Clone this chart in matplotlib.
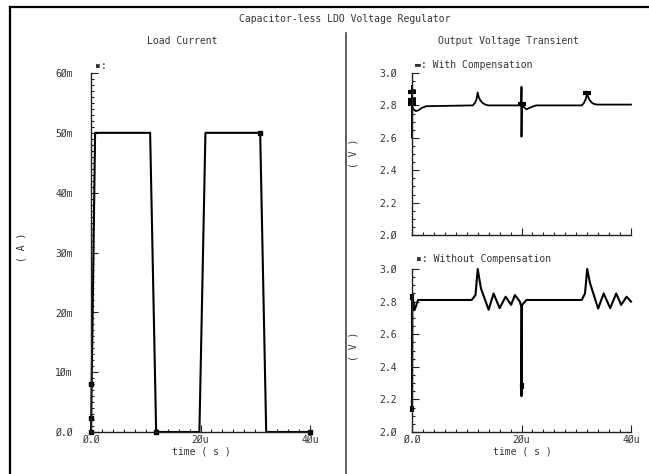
import matplotlib
matplotlib.use("Agg")
import matplotlib.pyplot as plt
from matplotlib.lines import Line2D
from matplotlib.ticker import MultipleLocator

# ===== data (time in us) =====
load_t = [0.0, 0.75, 10.8, 11.9, 19.8, 20.9, 30.9, 32.0, 40.0]
load_i = [0.0, 50.0, 50.0, 0.0, 0.0, 50.0, 50.0, 0.0, 0.0]          # mA
load_mark_t = [0.0, 0.0, 0.0, 11.9, 30.9, 40.0]
load_mark_i = [0.0, 2.3, 8.0, 0.0, 50.0, 0.0]

comp_t = [0.0, 0.0, 0.0, 0.05, 0.3, 0.7, 1.2, 1.8, 2.6,
          11.1, 11.5, 11.8, 12.0, 12.2, 12.5, 12.9, 13.4, 13.9,
          19.95, 20.0, 20.0, 20.05, 20.4, 20.9, 21.5, 22.2, 22.7,
          31.0, 31.4, 31.75, 32.0, 32.2, 32.5, 32.9, 33.4, 33.9, 40.0]
comp_v = [2.80, 2.92, 2.60, 2.79, 2.775, 2.765, 2.77, 2.785, 2.795,
          2.80, 2.815, 2.84, 2.88, 2.85, 2.83, 2.815, 2.805, 2.80,
          2.80, 2.915, 2.607, 2.81, 2.79, 2.776, 2.785, 2.795, 2.80,
          2.80, 2.815, 2.84, 2.875, 2.85, 2.83, 2.815, 2.807, 2.805, 2.805]
comp_mark_t = [0.0, 0.0, 0.0, 20.0, 32.0]
comp_mark_v = [2.88, 2.835, 2.81, 2.81, 2.875]

nocomp_t = [0.0, 0.0, 0.0, 0.05, 0.15, 0.25, 0.4, 0.6, 0.9, 1.1,
            10.9, 11.6, 12.0, 12.6, 14.0, 14.9, 16.0, 17.1, 18.1, 18.8, 19.7,
            19.95, 20.0, 20.1, 20.4, 20.9,
            31.0, 31.6, 32.0, 32.5, 34.0, 35.0, 36.2, 37.3, 38.2, 39.2, 40.0]
nocomp_v = [2.81, 2.84, 2.13, 2.83, 2.77, 2.80, 2.75, 2.76, 2.79, 2.81,
            2.81, 2.84, 3.0, 2.88, 2.75, 2.85, 2.76, 2.83, 2.78, 2.84, 2.80,
            2.77, 2.22, 2.78, 2.79, 2.81,
            2.81, 2.85, 3.0, 2.915, 2.757, 2.85, 2.76, 2.85, 2.78, 2.83, 2.80]
nocomp_mark_t = [0.0, 0.0, 20.0]
nocomp_mark_v = [2.83, 2.14, 2.28]

time_ticks = [0, 20, 40]
time_labels = ["Ø.Ø", "2Øu", "4Øu"]
load_ticks = [0, 10, 20, 30, 40, 50, 60]
load_labels = ["Ø.Ø", "1Øm", "2Øm", "3Øm", "4Øm", "5Øm", "6Øm"]
volt_ticks = [2.0, 2.2, 2.4, 2.6, 2.8, 3.0]
volt_labels = ["2.Ø", "2.2", "2.4", "2.6", "2.8", "3.Ø"]

# ===== layout =====
W, H = 649, 474
FONT = ["DejaVu Sans Mono", "DejaVu Sans"]
TXT = "#333333"
plt.rcParams["font.family"] = FONT
plt.rcParams["font.size"] = 7


def box(x0, y0, x1, y1):
    return [x0 / W, 1 - y1 / H, (x1 - x0) / W, (y1 - y0) / H]


def px(x, y):
    return x / W, 1 - y / H


def style(ax, xminor, yminor, ypad):
    for s in ["top", "right"]:
        ax.spines[s].set_visible(False)
    for s in ["left", "bottom"]:
        ax.spines[s].set_color("#222222")
        ax.spines[s].set_linewidth(1.0)
    ax.xaxis.set_minor_locator(MultipleLocator(xminor))
    ax.yaxis.set_minor_locator(MultipleLocator(yminor))
    ax.tick_params(which="both", direction="in", colors="#222222",
                   labelcolor=TXT, labelsize=7, width=0.8)
    ax.tick_params(which="major", length=5)
    ax.tick_params(which="minor", length=2.5)
    ax.tick_params(axis="y", pad=ypad)
    ax.tick_params(axis="x", pad=2)
    ax.set_facecolor("none")


fig = plt.figure(figsize=(W / 100, H / 100), dpi=100, facecolor="white")

# ===== Load Current =====
ax_i = fig.add_axes(box(91, 73, 310, 432))
ax_i.plot(load_t, load_i, color="black", lw=1.5, clip_on=False)
ax_i.plot(load_mark_t, load_mark_i, ls="none", marker="s", ms=3,
          color="black", clip_on=False)
ax_i.set_xlim(0, 40)
ax_i.set_ylim(0, 60)
ax_i.set_xticks(time_ticks, time_labels)
ax_i.set_yticks(load_ticks, load_labels)
style(ax_i, 2, 1, 13)

# ===== With Compensation =====
ax_c = fig.add_axes(box(412, 73, 631, 235))
ax_c.plot(comp_t, comp_v, color="black", lw=1.3, clip_on=False)
ax_c.plot(comp_mark_t, comp_mark_v, ls="none", marker="_", ms=6, mew=3,
          color="black", clip_on=False)
ax_c.set_xlim(0, 40)
ax_c.set_ylim(2.0, 3.0)
ax_c.set_xticks(time_ticks, [])
ax_c.set_yticks(volt_ticks, volt_labels)
style(ax_c, 2, 0.05, 11)

# ===== Without Compensation =====
ax_n = fig.add_axes(box(412, 269, 631, 432))
ax_n.plot(nocomp_t, nocomp_v, color="black", lw=1.5, clip_on=False)
ax_n.plot(nocomp_mark_t, nocomp_mark_v, ls="none", marker="|", ms=5, mew=3,
          color="black", clip_on=False)
ax_n.set_xlim(0, 40)
ax_n.set_ylim(2.0, 3.0)
ax_n.set_xticks(time_ticks, time_labels)
ax_n.set_yticks(volt_ticks, volt_labels)
style(ax_n, 2, 0.05, 11)

# ===== texts =====
fig.text(*px(345, 19), "Capacitor-less LDO Voltage Regulator",
         ha="center", va="center", color=TXT)
fig.text(*px(182, 41), "Load Current", ha="center", va="center", color=TXT)
fig.text(*px(509, 41), "Output Voltage Transient", ha="center", va="center", color=TXT)

fig.text(*px(95, 66), "▪:", ha="left", va="center", color=TXT)
fig.text(*px(415, 65), "▬: With Compensation", ha="left", va="center", color=TXT)
fig.text(*px(416, 259), "▪: Without Compensation", ha="left", va="center", color=TXT)

fig.text(*px(22, 247), "( A )", rotation=90, ha="center", va="center", color=TXT)
fig.text(*px(354, 153), "( V )", rotation=90, ha="center", va="center", color=TXT)
fig.text(*px(354, 346), "( V )", rotation=90, ha="center", va="center", color=TXT)

fig.text(*px(201, 452), "time ( s )", ha="center", va="center", color=TXT)
fig.text(*px(522, 452), "time ( s )", ha="center", va="center", color=TXT)

# ===== frame + divider =====
fig.add_artist(Line2D([9.5 / W, 9.5 / W], [0, 1 - 7 / H], color="black", lw=1.6))
fig.add_artist(Line2D([9.5 / W, 1], [1 - 7 / H, 1 - 7 / H], color="black", lw=1.6))
fig.add_artist(Line2D([346 / W, 346 / W], [0, 1 - 33 / H], color="#444444", lw=1.2))

fig.savefig("out.png", dpi=100)
